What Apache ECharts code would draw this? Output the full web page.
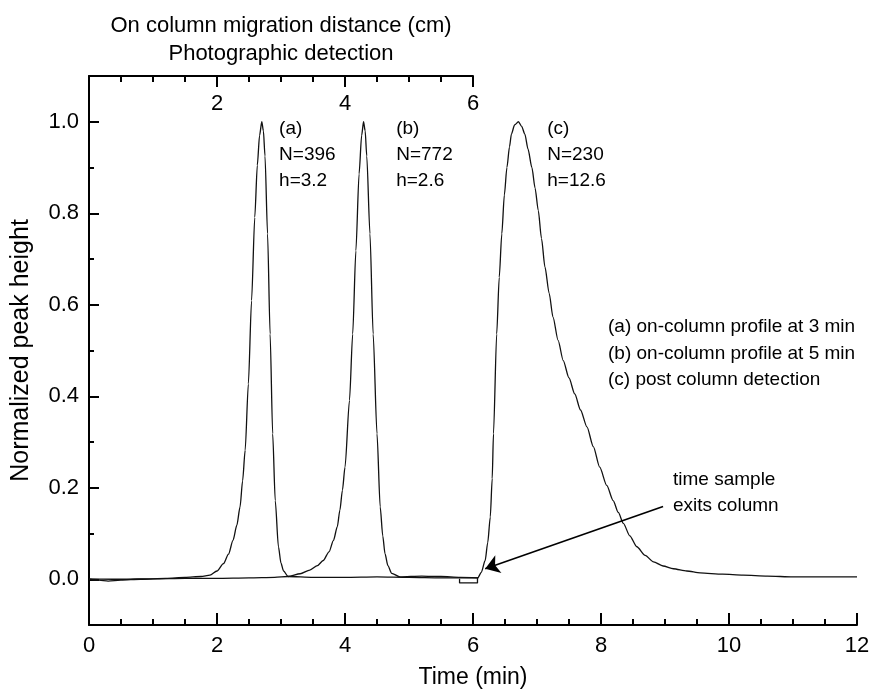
<!DOCTYPE html>
<html><head><meta charset="utf-8">
<script src="https://cdn.jsdelivr.net/npm/echarts@6/dist/echarts.min.js"></script>
<style>html,body{margin:0;padding:0;background:#fff}#c{width:869px;height:696px}</style>
</head><body><div id="c"></div>
<script>
// ---- data ----
const peakA = [[0,0],[0.15,-0.002],[0.3,-0.004],[0.5,-0.002],[0.8,0.0],[1.2,0.002],[1.5,0.004],[1.75,0.006],[1.89,0.009],[2.0,0.018],[2.10,0.034],[2.18,0.055],[2.25,0.085],[2.31,0.118],[2.36,0.158],[2.40,0.215],[2.44,0.282],[2.49,0.427],[2.54,0.609],[2.59,0.791],[2.63,0.905],[2.665,0.97],[2.70,1.0],[2.725,0.98],[2.75,0.925],[2.79,0.755],[2.83,0.536],[2.87,0.318],[2.91,0.172],[2.96,0.071],[3.00,0.035],[3.04,0.018],[3.11,0.006],[3.5,0.004],[4.0,0.004],[4.5,0.005],[5.0,0.004],[5.5,0.003],[6.08,0.003]];
const peakB = [[0,0.001],[0.5,0.0],[1.0,0.001],[1.5,0.002],[2.0,0.002],[2.5,0.003],[2.9,0.004],[3.11,0.006],[3.30,0.012],[3.45,0.02],[3.57,0.03],[3.66,0.041],[3.75,0.06],[3.82,0.085],[3.88,0.115],[3.92,0.151],[3.96,0.195],[4.0,0.245],[4.07,0.391],[4.12,0.536],[4.17,0.718],[4.22,0.886],[4.26,0.97],[4.29,1.0],[4.315,0.98],[4.34,0.925],[4.39,0.755],[4.44,0.536],[4.50,0.318],[4.55,0.158],[4.59,0.095],[4.625,0.056],[4.67,0.03],[4.73,0.013],[4.86,0.005],[5.2,0.007],[5.5,0.006],[5.8,0.004],[6.08,0.003]];
const peakC = [[5.79,0.001],[5.79,-0.008],[6.07,-0.008],[6.07,0.002],[6.13,0.015],[6.19,0.041],[6.23,0.08],[6.27,0.136],[6.30,0.22],[6.32,0.318],[6.37,0.536],[6.41,0.66],[6.45,0.755],[6.49,0.84],[6.53,0.90],[6.57,0.945],[6.60,0.973],[6.65,0.993],[6.71,1.0],[6.76,0.99],[6.81,0.973],[6.86,0.94],[6.92,0.90],[6.97,0.855],[7.02,0.806],[7.07,0.745],[7.125,0.682],[7.19,0.625],[7.25,0.573],[7.33,0.522],[7.41,0.478],[7.50,0.44],[7.59,0.405],[7.68,0.37],[7.78,0.333],[7.88,0.29],[7.98,0.245],[8.09,0.205],[8.19,0.172],[8.27,0.146],[8.35,0.122],[8.45,0.095],[8.56,0.071],[8.69,0.052],[8.82,0.038],[8.97,0.029],[9.13,0.023],[9.34,0.018],[9.55,0.014],[9.9,0.011],[10.22,0.009],[10.6,0.007],[11.0,0.005],[11.5,0.005],[12.0,0.005]];
const peakNotes = [[2.97,1.013,'(a)\nN=396\nh=3.2'],[4.80,1.013,'(b)\nN=772\nh=2.6'],[7.16,1.013,'(c)\nN=230\nh=12.6']];
const arrowFrom = [8.97,0.159];
const arrowTo = [6.19,0.023];
const yMajorTicks = [0,0.2,0.4,0.6,0.8,1.0];
const legendLines = '(a) on-column profile at 3 min\n(b) on-column profile at 5 min\n(c) post column detection';
const exitNote = 'time sample\nexits column';
const topAxisName = 'On column migration distance (cm)\nPhotographic detection';

const FONT = 'Liberation Sans, Arial, Helvetica, sans-serif';
const chart = echarts.init(document.getElementById('c'), null, {renderer:'canvas'});
const tickStyle = {color:'#000', width:2};
const lineSer = (d) => ({type:'line', data:d, xAxisIndex:0, yAxisIndex:0, showSymbol:false, symbol:'none',
  smooth:0.25, smoothMonotone:'x',
  lineStyle:{color:'#111', width:1.3}, silent:true, animation:false});

chart.setOption({
  animation:false,
  backgroundColor:'#fff',
  textStyle:{fontFamily:FONT, color:'#000'},
  grid:[
    {left:89, top:76, right:12, bottom:71, outerBoundsMode:'none', containLabel:false},
    {left:89, top:76, width:384, bottom:71, outerBoundsMode:'none', containLabel:false}
  ],
  xAxis:[
    {type:'value', gridIndex:0, position:'bottom', min:0, max:12, interval:2,
     axisLine:{show:true, onZero:false, lineStyle:{color:'#000', width:2}},
     axisTick:{show:true, inside:true, length:12, lineStyle:tickStyle},
     minorTick:{show:true, splitNumber:4, length:6, lineStyle:tickStyle},
     splitLine:{show:false}, minorSplitLine:{show:false},
     axisLabel:{fontSize:22, color:'#000', margin:10, fontFamily:FONT},
     name:'Time (min)', nameLocation:'middle', nameGap:41,
     nameTextStyle:{fontSize:23, color:'#000', fontFamily:FONT}},
    {type:'value', gridIndex:1, position:'top', min:0, max:6, interval:2,
     axisLine:{show:true, onZero:false, lineStyle:{color:'#000', width:2}},
     axisTick:{show:true, inside:true, length:11, lineStyle:tickStyle},
     minorTick:{show:true, splitNumber:4, length:6, lineStyle:tickStyle},
     splitLine:{show:false}, minorSplitLine:{show:false},
     axisLabel:{inside:true, fontSize:22, color:'#000', margin:17, fontFamily:FONT,
       formatter:v => v === 0 ? '' : String(v)},
     name:topAxisName, nameLocation:'middle', nameGap:8,
     nameTextStyle:{fontSize:22, lineHeight:28, color:'#000', fontFamily:FONT}}
  ],
  yAxis:[
    {type:'value', gridIndex:0, position:'left', min:-0.1, max:1.1, interval:0.1,
     axisLine:{show:true, onZero:false, lineStyle:{color:'#000', width:2}},
     axisTick:{show:true, inside:true, length:5, lineStyle:tickStyle},
     splitLine:{show:false},
     axisLabel:{fontSize:22, color:'#000', margin:10, fontFamily:FONT,
       formatter:v => { const k = Math.round(v*10); return (k % 2 === 0) ? (k/10).toFixed(1) : ''; }},
     name:'Normalized peak height', nameLocation:'middle', nameGap:55, nameRotate:90,
     nameTextStyle:{fontSize:25, color:'#000', fontFamily:FONT}},
    {type:'value', gridIndex:0, position:'left', min:-0.1, max:1.1, offset:0,
     axisLine:{show:false},
     axisTick:{show:true, inside:true, length:10, customValues:yMajorTicks, lineStyle:tickStyle},
     axisLabel:{show:false}, splitLine:{show:false}},
    {type:'value', gridIndex:1, show:false, min:0, max:1}
  ],
  series:[
    lineSer(peakA),
    lineSer(peakB),
    Object.assign(lineSer(peakC), {
      markLine:{silent:true, symbol:['none','arrow'], symbolSize:14, animation:false,
        lineStyle:{color:'#000', width:1.6, type:'solid'}, label:{show:false},
        emphasis:{disabled:true},
        data:[[{coord:arrowFrom},{coord:arrowTo}]]}
    }),
    {type:'scatter', xAxisIndex:0, yAxisIndex:0, symbolSize:0, silent:true,
     itemStyle:{opacity:1, color:'#000'},
     data:peakNotes,
     label:{show:true, position:[0,0], align:'left', verticalAlign:'top', fontSize:19, lineHeight:26,
       color:'#000', opacity:1, fontFamily:FONT, formatter:p => p.value[2]}}
  ],
  graphic:[
    {type:'text', left:608, top:314, silent:true,
     style:{text:legendLines, font:'19px ' + FONT, lineHeight:26.5, fill:'#000'}},
    {type:'text', left:673, top:467, silent:true,
     style:{text:exitNote, font:'19px ' + FONT, lineHeight:26, fill:'#000'}}
  ]
});
</script></body></html>
